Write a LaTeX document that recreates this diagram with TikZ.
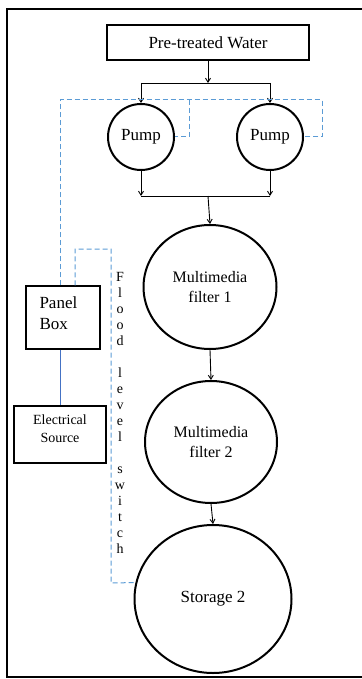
\documentclass[tikz,border=0pt]{standalone}
\usepackage{fontspec}
\setmainfont{Liberation Serif}
\usetikzlibrary{arrows.meta,shapes.geometric}
\definecolor{dashblue}{HTML}{5B9BD5}
\definecolor{lineblue}{HTML}{4472C4}
\begin{document}
\begin{tikzpicture}[x=1pt,y=-1pt,
  boxnode/.style={draw,line width=1.2pt,rectangle,inner sep=0pt},
  round/.style={draw,line width=2pt,circle,inner sep=0pt},
  oval/.style={draw,line width=2pt,ellipse,inner sep=0pt,align=center},
  arr/.style={-{Straight Barb[length=4pt,width=5pt]},line width=0.9pt},
  flow/.style={line width=0.9pt},
  dsh/.style={dashblue,dashed,dash pattern=on 5pt off 3pt,line width=1pt},
  wire/.style={lineblue,line width=0.9pt},
  big/.style={font=\fontsize{17}{21}\selectfont}
]
\useasboundingbox (0,0) rectangle (361,679);
\draw[line width=2pt] (7,9) rectangle (372,677);

\node[boxnode,big,minimum width=202pt,minimum height=35pt] (water) at (208,42.5) {Pre-treated Water};
\node[round,big,minimum size=66pt] (p1) at (141,137) {Pump};
\node[round,big,minimum size=66pt] (p2) at (270,137) {Pump};
\node[oval,font=\fontsize{16}{20}\selectfont,minimum width=133pt,minimum height=124pt] (f1) at (210,287) {Multimedia\\filter 1};
\node[oval,font=\fontsize{16}{20}\selectfont,minimum width=132pt,minimum height=122pt] (f2) at (211,442) {Multimedia\\filter 2};
\node[oval,big,minimum width=157pt,minimum height=148pt] (st) at (213,599) {Storage 2};
\node[boxnode,minimum width=74pt,minimum height=63pt] (panel) at (63,317.5) {};
\node[big,align=left,anchor=north west] (paneltxt) at (36,293) {Panel\\Box};
\node[boxnode,minimum width=92pt,minimum height=57pt] (elec) at (60,434.5) {};
\node[align=center,font=\fontsize{14}{18}\selectfont] (electxt) at (60,429) {Electrical\\Source};
\node[align=center,font=\fontsize{14}{16}\selectfont,inner sep=0pt] (flood) at (120,413)
  {F\\l\\o\\o\\d\\\mbox{}\\l\\e\\v\\e\\l\\\mbox{}\\s\\w\\i\\t\\c\\h};

% flow
\coordinate (split) at (208,83);
\coordinate (merge) at (208,196);
\draw[arr] (water.south) -- (split);
\draw[flow] (p1.north |- split) -- (p2.north |- split);
\draw[arr] (p1.north |- split) -- (p1.north);
\draw[arr] (p2.north |- split) -- (p2.north);
\draw[arr] (p1.south) -- (p1.south |- merge);
\draw[arr] (p2.south) -- (p2.south |- merge);
\draw[flow] (p1.south |- merge) -- (p2.south |- merge);
\draw[arr] (merge) -- (f1.north);
\draw[arr] (f1.south) -- (f2.north);
\draw[arr] (f2.south) -- (st.north);

% control wiring
\coordinate (cA) at (60,100);
\coordinate (cB) at (189,100);
\coordinate (cC) at (322,100);
\draw[dsh] (cA |- panel.north) -- (cA) -- (cC) -- (cC |- p2.east) -- (p2.east);
\draw[dsh] (cB) -- (cB |- p1.east) -- (p1.east);
\coordinate (cD) at (75,249);
\coordinate (cE) at (111,249);
\coordinate (cF) at (111,583);
\draw[dsh] (cD |- panel.north) -- (cD) -- (cE) -- (cF) -- (st.168);
\draw[wire] (panel.south -| elec.north) -- (elec.north);
\end{tikzpicture}
\end{document}
